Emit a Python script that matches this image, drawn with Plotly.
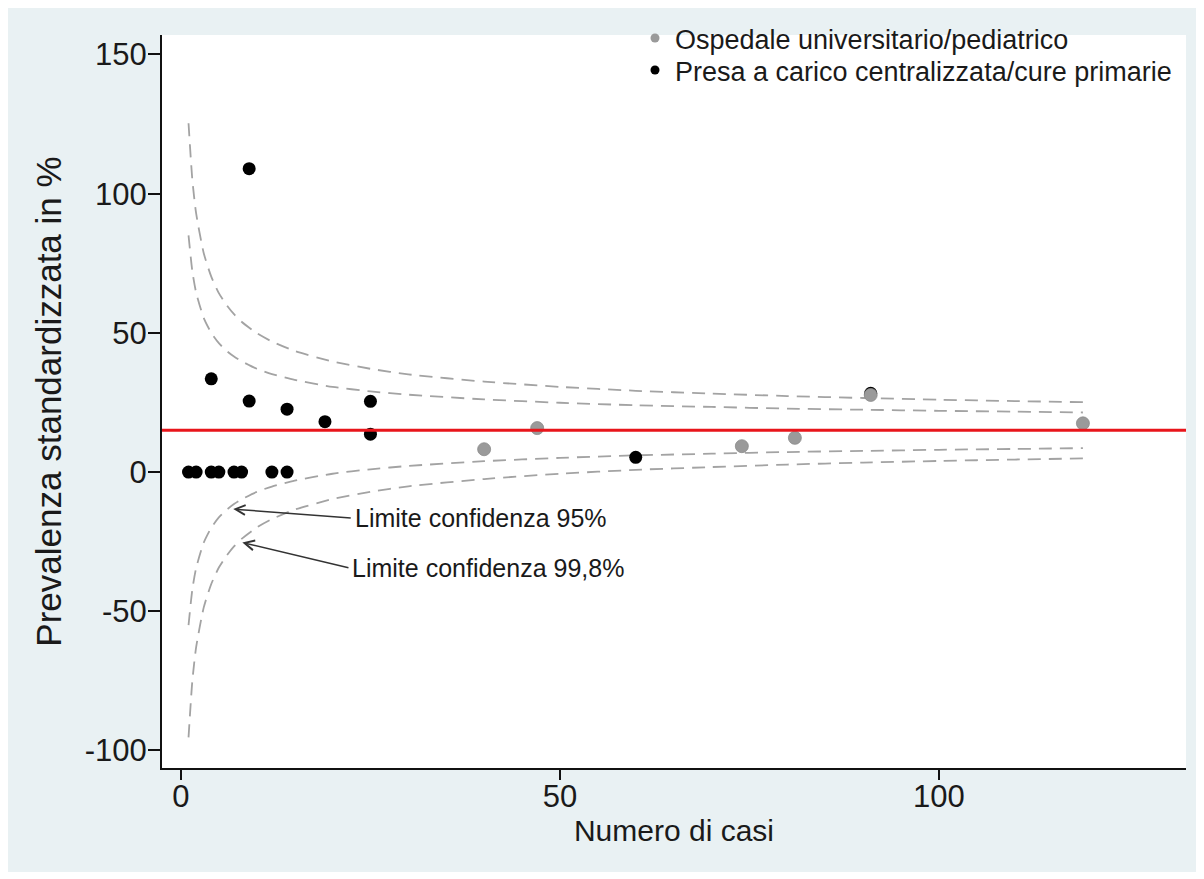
import plotly.graph_objects as go

# ---------------- data ----------------
# Presa a carico centralizzata / cure primarie (black)
prim_n = [1, 2, 4, 5, 7, 8, 12, 14, 4, 9, 9, 14, 19, 25, 25, 60, 91]
prim_p = [0, 0, 0, 0, 0, 0, 0, 0, 33.5, 109, 25.5, 22.6, 18.1, 25.4, 13.6, 5.3, 28.3]

# Ospedale universitario / pediatrico (grey)
osp_n = [40, 47, 74, 81, 91, 119]
osp_p = [8.2, 15.8, 9.3, 12.3, 27.7, 17.5]

# overall prevalence (red line)
mean_p = 15

# control limits
lim_n = [1, 1.5, 2, 3, 4, 5, 6, 7, 8, 10, 12, 15, 20, 25, 30, 40, 50, 60, 70, 80, 90, 100, 110, 119]
up95 = [85.0, 72.2, 64.5, 55.4, 50.0, 46.3, 43.6, 41.5, 39.8, 37.1, 35.2, 33.1, 30.6, 29.0,
        27.8, 26.1, 24.9, 24.0, 23.4, 22.8, 22.4, 22.0, 21.7, 21.4]
lo95 = [-55.0, -42.2, -34.5, -25.4, -20.0, -16.3, -13.6, -11.5, -9.8, -7.1, -5.2, -3.1, -0.6, 1.0,
        2.2, 3.9, 5.1, 6.0, 6.6, 7.2, 7.6, 8.0, 8.3, 8.6]
up998 = [125.3, 105.1, 93.0, 78.7, 70.2, 64.3, 60.1, 56.7, 54.0, 49.9, 46.9, 43.5, 39.7, 37.1,
         35.1, 32.5, 30.6, 29.2, 28.2, 27.3, 26.6, 26.0, 25.5, 25.1]
lo998 = [-95.3, -75.1, -63.0, -48.7, -40.2, -34.3, -30.1, -26.7, -24.0, -19.9, -16.9, -13.5, -9.7, -7.1,
         -5.1, -2.5, -0.6, 0.8, 1.8, 2.7, 3.4, 4.0, 4.5, 4.9]

x_ticks = [0, 50, 100]
x_ticklabels = ["0", "50", "100"]
y_ticks = [-100, -50, 0, 50, 100, 150]
y_ticklabels = ["-100", "-50", "0", "50", "100", "150"]

legend_names = ["Ospedale universitario/pediatrico", "Presa a carico centralizzata/cure primarie"]
ann_95 = "Limite confidenza 95%"
ann_998 = "Limite confidenza 99,8%"

# ---------------- styling ----------------
FONT = "Arial, 'Liberation Sans', sans-serif"
TXT = "#1a1a1a"
GREY = "#9a9a9a"
DASH_COL = "#a3a3a3"
W, H = 1188, 864
L, R, T, B = 154, 10, 27, 104

fig = go.Figure()

dash_line = dict(color=DASH_COL, width=1.8, dash="13px,8px", shape="spline", smoothing=0.6)
for ys in (up95, lo95, up998, lo998):
    fig.add_trace(go.Scatter(x=lim_n, y=ys, mode="lines", line=dash_line,
                             showlegend=False, hoverinfo="skip"))

fig.add_trace(go.Scatter(x=prim_n, y=prim_p, mode="markers",
                         marker=dict(color="#000000", size=13, line=dict(width=0)),
                         showlegend=False))
fig.add_trace(go.Scatter(x=osp_n, y=osp_p, mode="markers",
                         marker=dict(color=GREY, size=13, line=dict(width=0.8, color="#8a8a8a")),
                         showlegend=False))

# legend entries (small symbols), one legend box per entry for exact placement
fig.add_trace(go.Scatter(x=[None], y=[None], mode="markers", name=legend_names[0],
                         marker=dict(color=GREY, size=9), legend="legend"))
fig.add_trace(go.Scatter(x=[None], y=[None], mode="markers", name=legend_names[1],
                         marker=dict(color="#000000", size=9), legend="legend2"))

# red reference line
fig.add_shape(type="line", xref="paper", x0=0, x1=1, yref="y", y0=mean_p, y1=mean_p,
              line=dict(color="#e8151b", width=3), layer="above")

pw, ph = W - L - R, H - T - B
def px_x(p):
    return (p - L) / pw
def px_y(p):
    return (H - B - p) / ph

# annotations with arrows
arrow = dict(showarrow=True, arrowhead=5, arrowsize=1.3, arrowwidth=1.5, arrowcolor="#333333",
             axref="x", ayref="y", text="", standoff=0)
fig.add_annotation(x=6.9, y=-13.3, ax=22.6, ay=-16.5, **arrow)
fig.add_annotation(x=8.1, y=-25.3, ax=22.3, ay=-34.5, **arrow)
fig.add_annotation(x=22.7, y=-16.5, text=ann_95, showarrow=False, xanchor="left", yanchor="middle",
                   font=dict(family=FONT, size=25, color=TXT))
fig.add_annotation(x=22.3, y=-34.5, text=ann_998, showarrow=False, xanchor="left", yanchor="middle",
                   font=dict(family=FONT, size=25, color=TXT))

axis_common = dict(showgrid=False, zeroline=False, showline=True, linecolor="#111111", linewidth=2,
                   ticks="outside", tickwidth=2, tickcolor="#111111",
                   tickfont=dict(family=FONT, size=31, color=TXT), mirror=False)

leg_common = dict(xanchor="left", yanchor="top", bgcolor="rgba(0,0,0,0)",
                  font=dict(family=FONT, size=27, color=TXT), itemsizing="trace")

fig.update_layout(
    width=W, height=H,
    margin=dict(l=L, r=R, t=T, b=B, pad=0, autoexpand=False),
    paper_bgcolor="#e9f1f3", plot_bgcolor="#ffffff",
    font=dict(family=FONT, color=TXT),
    xaxis=dict(range=[-2.5, 132.6], tickvals=x_ticks, ticktext=x_ticklabels, ticklen=10,
               ticklabelstandoff=-10,
               title=dict(text="Numero di casi", font=dict(family=FONT, size=30, color=TXT), standoff=2),
               **axis_common),
    yaxis=dict(range=[-106.3, 157.0], tickvals=y_ticks, ticktext=y_ticklabels, ticklen=12,
               ticklabelstandoff=-5,
               title=dict(text="Prevalenza standardizzata in %", font=dict(family=FONT, size=35, color=TXT),
                          standoff=13),
               **axis_common),
    legend=dict(x=px_x(627), y=px_y(6), **leg_common),
    legend2=dict(x=px_x(627), y=px_y(38), **leg_common),
    showlegend=True,
)

fig.write_html("out.html")
